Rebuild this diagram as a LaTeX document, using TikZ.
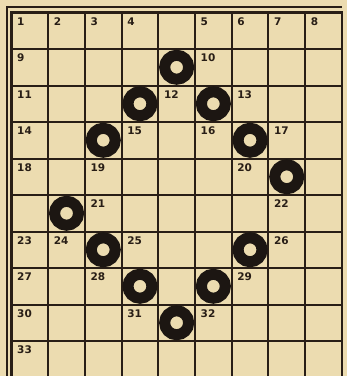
\documentclass[tikz,border=0pt]{standalone}
\usepackage{fontspec}
\setmainfont{DejaVu Sans}
\definecolor{paper}{RGB}{236,220,176}
\definecolor{ink}{RGB}{40,30,22}
\definecolor{tar}{RGB}{28,22,18}

\begin{document}
\begin{tikzpicture}[
        x=36.7pt, y=-36.5pt,
        gridline/.style={draw=ink, line width=2pt},
        frame/.style={draw=ink, line width=2.4pt},
        num/.style={anchor=north west, inner sep=0pt, xshift=5.5pt, yshift=-5pt,
            text=ink, font=\fontsize{10.5}{11}\selectfont\bfseries},
        ring/.style={circle, draw=tar, line width=11pt, minimum size=24pt,
            inner sep=0pt},
    ]
        % paper and page
        \fill[paper] (-0.3134,-0.3425) rectangle (9.1417,9.9589);
        \useasboundingbox (-0.3134,-0.3425) rectangle (9.1417,9.9589);
        \clip (-0.3134,-0.3425) rectangle (9.1417,9.9589);

        % grid
        \foreach \c in {1,...,8} \draw[gridline] (\c,0) -- (\c,10);
        \foreach \r in {1,...,9} \draw[gridline] (0,\r) -- (9,\r);
        \draw[frame] (0,0) rectangle (9,10);
        \draw[gridline] (-0.12,10) -- (-0.12,-0.14) -- (9,-0.14);

        % numbers
        \node[num] (n1) at (0,0) {1};
        \node[num] (n2) at (1,0) {2};
        \node[num] (n3) at (2,0) {3};
        \node[num] (n4) at (3,0) {4};
        \node[num] (n5) at (5,0) {5};
        \node[num] (n6) at (6,0) {6};
        \node[num] (n7) at (7,0) {7};
        \node[num] (n8) at (8,0) {8};
        \node[num] (n9) at (0,1) {9};
        \node[num] (n10) at (5,1) {10};
        \node[num] (n11) at (0,2) {11};
        \node[num] (n12) at (4,2) {12};
        \node[num] (n13) at (6,2) {13};
        \node[num] (n14) at (0,3) {14};
        \node[num] (n15) at (3,3) {15};
        \node[num] (n16) at (5,3) {16};
        \node[num] (n17) at (7,3) {17};
        \node[num] (n18) at (0,4) {18};
        \node[num] (n19) at (2,4) {19};
        \node[num] (n20) at (6,4) {20};
        \node[num] (n21) at (2,5) {21};
        \node[num] (n22) at (7,5) {22};
        \node[num] (n23) at (0,6) {23};
        \node[num] (n24) at (1,6) {24};
        \node[num] (n25) at (3,6) {25};
        \node[num] (n26) at (7,6) {26};
        \node[num] (n27) at (0,7) {27};
        \node[num] (n28) at (2,7) {28};
        \node[num] (n29) at (6,7) {29};
        \node[num] (n30) at (0,8) {30};
        \node[num] (n31) at (3,8) {31};
        \node[num] (n32) at (5,8) {32};
        \node[num] (n33) at (0,9) {33};

        % rings
        \node[ring] (r1) at (4.5,1.5) {};
        \node[ring] (r2) at (3.5,2.5) {};
        \node[ring] (r3) at (5.5,2.5) {};
        \node[ring] (r4) at (2.5,3.5) {};
        \node[ring] (r5) at (6.5,3.5) {};
        \node[ring] (r6) at (7.5,4.5) {};
        \node[ring] (r7) at (1.5,5.5) {};
        \node[ring] (r8) at (2.5,6.5) {};
        \node[ring] (r9) at (6.5,6.5) {};
        \node[ring] (r10) at (3.5,7.5) {};
        \node[ring] (r11) at (5.5,7.5) {};
        \node[ring] (r12) at (4.5,8.5) {};
    \end{tikzpicture}
\end{document}
